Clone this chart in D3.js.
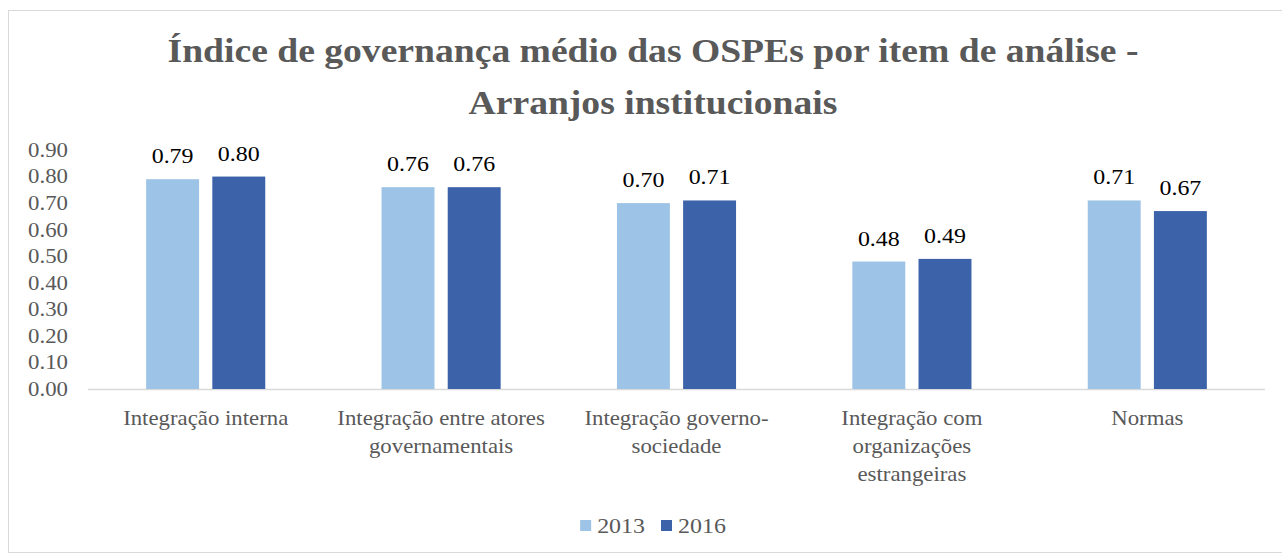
<!DOCTYPE html>
<html>
<head>
<meta charset="utf-8">
<script src="https://cdn.jsdelivr.net/npm/d3@7"></script>
<style>
  html, body { margin: 0; padding: 0; background: #fff; }
  svg { display: block; }
  text { font-family: "Liberation Serif", "Times New Roman", "DejaVu Serif", serif; }
</style>
</head>
<body>
<svg id="chart" width="1282" height="554"></svg>
<script>
// chart data
var categories = [
  "Integração interna",
  "Integração entre atores governamentais",
  "Integração governo-sociedade",
  "Integração com organizações estrangeiras",
  "Normas"
];
// how each category label wraps
var categoryLines = [
  ["Integração interna"],
  ["Integração entre atores", "governamentais"],
  ["Integração governo-", "sociedade"],
  ["Integração com", "organizações", "estrangeiras"],
  ["Normas"]
];
var series = ["2013", "2016"];
var values2013 = [0.79, 0.76, 0.70, 0.48, 0.71];
var values2016 = [0.80, 0.76, 0.71, 0.49, 0.67];
var yTicks = [0, 0.1, 0.2, 0.3, 0.4, 0.5, 0.6, 0.7, 0.8, 0.9];
var titleLines = [
  "Índice de governança médio das OSPEs por item de análise -",
  "Arranjos institucionais"
];

var colors = { "2013": "#9dc3e6", "2016": "#3c63aa" };
var textGray = "#595959";
var SX = 1.14; // the source text is drawn a bit wider than normal

var svg = d3.select("#chart");
var W = 1282, H = 554;
var chartCx = 653; // the chart frame runs past the right edge of the picture

// chart area border (right side is cut off)
svg.append("rect")
  .attr("x", 8.5).attr("y", 10.5)
  .attr("width", W + 20).attr("height", H - 12)
  .attr("fill", "#fff")
  .attr("stroke", "#d9d9d9");

var plot = { left: 88, right: 1265, top: 150, bottom: 389 };

var y = d3.scaleLinear()
  .domain([0, 0.9])
  .range([plot.bottom, plot.top]);

var x0 = d3.scaleBand()
  .domain(categories)
  .range([plot.left, plot.right])
  .paddingInner(0.494)
  .paddingOuter(0.247);

var x1 = d3.scaleBand()
  .domain(series)
  .range([0, x0.bandwidth()])
  .paddingInner(0.2);

var rows = categories.map(function(c, i) {
  return { cat: c, values: [
    { key: "2013", value: values2013[i] },
    { key: "2016", value: values2016[i] }
  ]};
});

// title
svg.append("text")
  .attr("transform", "scale(" + SX + ",1)")
  .attr("text-anchor", "middle")
  .attr("fill", textGray)
  .style("font-size", "33px")
  .style("font-weight", "bold")
  .selectAll("tspan")
  .data(titleLines)
  .enter().append("tspan")
  .attr("x", chartCx / SX)
  .attr("y", function(d, i) { return 62 + i * 52; })
  .text(function(d) { return d; });

// y axis (labels only)
var yAxis = d3.axisLeft(y)
  .tickValues(yTicks)
  .tickFormat(d3.format(".2f"))
  .tickSize(0)
  .tickPadding(0);

var yg = svg.append("g")
  .attr("transform", "translate(68,0)")
  .call(yAxis);
yg.attr("font-family", null);
yg.select(".domain").remove();
yg.selectAll("text")
  .attr("fill", textGray)
  .attr("transform", "scale(" + SX + ",1)")
  .style("font-size", "20px");

// baseline
svg.append("line")
  .attr("x1", plot.left).attr("x2", plot.right)
  .attr("y1", y(0) + 0.5).attr("y2", y(0) + 0.5)
  .attr("stroke", "#d9d9d9")
  .attr("stroke-width", 1.5);

// bars
var groups = svg.selectAll(".cat")
  .data(rows)
  .enter().append("g")
  .attr("class", "cat")
  .attr("transform", function(d) { return "translate(" + x0(d.cat) + ",0)"; });

groups.selectAll("rect")
  .data(function(d) { return d.values; })
  .enter().append("rect")
  .attr("x", function(d) { return x1(d.key); })
  .attr("y", function(d) { return y(d.value); })
  .attr("width", x1.bandwidth())
  .attr("height", function(d) { return y(0) - y(d.value); })
  .attr("fill", function(d) { return colors[d.key]; });

groups.selectAll(".val")
  .data(function(d) { return d.values; })
  .enter().append("text")
  .attr("class", "val")
  .attr("transform", "scale(" + SX + ",1)")
  .attr("x", function(d) { return (x1(d.key) + x1.bandwidth() / 2) / SX; })
  .attr("y", function(d) { return y(d.value) - 16; })
  .attr("text-anchor", "middle")
  .attr("fill", "#000")
  .style("font-size", "21px")
  .text(function(d) { return d3.format(".2f")(d.value); });

// category labels
svg.selectAll(".catlabel")
  .data(categories)
  .enter().append("text")
  .attr("class", "catlabel")
  .attr("transform", "scale(" + SX + ",1)")
  .attr("text-anchor", "middle")
  .attr("fill", textGray)
  .style("font-size", "20px")
  .each(function(c, i) {
    var cx = x0(c) + x0.bandwidth() / 2;
    d3.select(this).selectAll("tspan")
      .data(categoryLines[i])
      .enter().append("tspan")
      .attr("x", cx / SX)
      .attr("y", function(d, j) { return 425 + j * 28; })
      .text(function(d) { return d; });
  });

// legend
var legend = svg.append("g").attr("class", "legend");
var lx = 0;
series.forEach(function(s, i) {
  var g = legend.append("g").attr("transform", "translate(" + lx + ",0)");
  g.append("rect")
    .attr("x", 0).attr("y", -6)
    .attr("width", 11).attr("height", 11)
    .attr("fill", colors[s]);
  var t = g.append("text")
    .attr("transform", "scale(" + SX + ",1)")
    .attr("x", 17 / SX).attr("y", 7)
    .attr("fill", textGray)
    .style("font-size", "21px")
    .text(s);
  lx += 17 + t.node().getComputedTextLength() * SX + 16;
});
var legendW = lx - 16;
legend.attr("transform", "translate(" + (chartCx - legendW / 2) + ",526)");
</script>
</body>
</html>
